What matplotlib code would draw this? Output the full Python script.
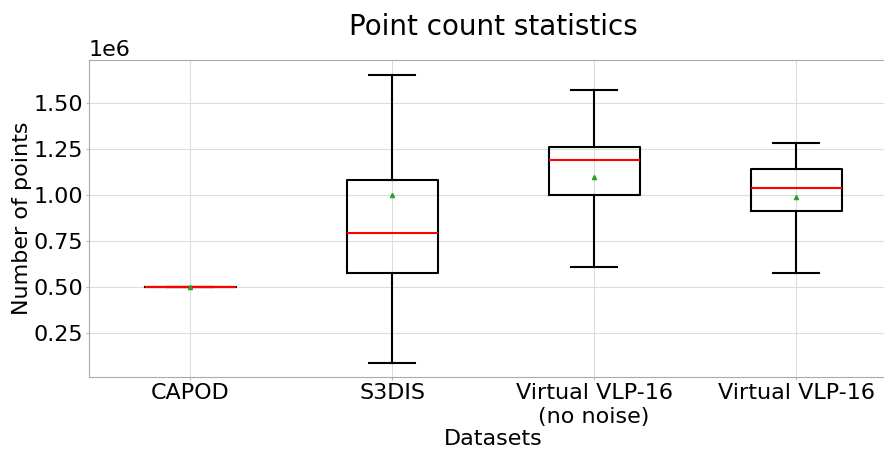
import matplotlib
matplotlib.use('Agg')
import matplotlib.pyplot as plt

# Dataset labels and box statistics (units of points)
datasets = ['CAPOD', 'S3DIS', 'Virtual VLP-16\n(no noise)', 'Virtual VLP-16']
whislo = [0.50e6, 0.087e6, 0.609e6, 0.576e6]
q1 = [0.50e6, 0.576e6, 1.000e6, 0.913e6]
med = [0.50e6, 0.793e6, 1.190e6, 1.038e6]
q3 = [0.50e6, 1.082e6, 1.261e6, 1.141e6]
whishi = [0.50e6, 1.652e6, 1.571e6, 1.283e6]
means = [0.50e6, 1.000e6, 1.098e6, 0.989e6]

stats = []
for i in range(len(datasets)):
    stats.append({'label': datasets[i], 'whislo': whislo[i], 'q1': q1[i],
                  'med': med[i], 'q3': q3[i], 'whishi': whishi[i],
                  'mean': means[i], 'fliers': []})

fig = plt.figure(figsize=(8.84, 4.5), dpi=100)
ax = fig.add_axes([0.1007, 0.162, 0.9143, 0.705])

ax.bxp(stats, widths=0.45, showmeans=True,
       boxprops=dict(color='black', linewidth=1.5),
       whiskerprops=dict(color='black', linewidth=1.5),
       capprops=dict(color='black', linewidth=1.5),
       medianprops=dict(color='red', linewidth=1.5),
       meanprops=dict(marker='^', markerfacecolor='tab:green',
                      markeredgecolor='tab:green', markersize=3))

ax.set_xlim(0.5, 4.5)
ax.set_ylim(0.01e6, 1.734e6)
ax.set_yticks([0.25e6, 0.5e6, 0.75e6, 1.0e6, 1.25e6, 1.5e6])
ax.grid(True, color='#dddddd', linewidth=0.8)
ax.set_axisbelow(True)
for s in ax.spines.values():
    s.set_color('#aaaaaa')
ax.tick_params(axis='both', labelsize=16, length=2.5, pad=2, color='#bbbbbb')
ax.yaxis.get_offset_text().set_fontsize(16)

ax.set_title('Point count statistics', fontsize=20, pad=18)
ax.set_xlabel('Datasets', fontsize=16, labelpad=2)
ax.set_ylabel('Number of points', fontsize=16, labelpad=1)

fig.savefig('out.png', dpi=100)
